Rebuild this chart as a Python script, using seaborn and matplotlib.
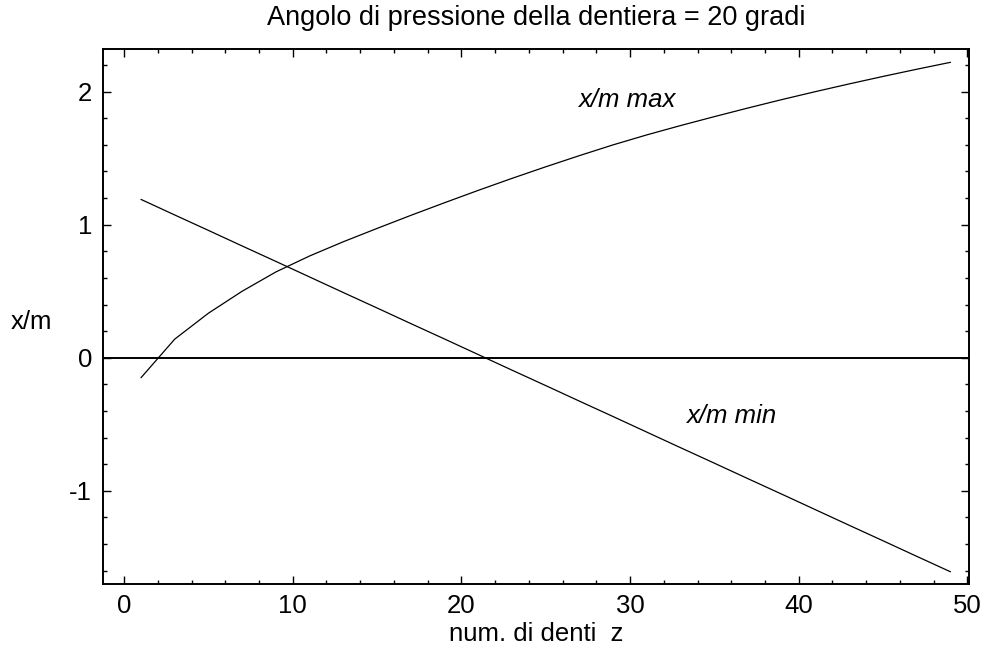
import matplotlib
matplotlib.use("Agg")
import matplotlib.pyplot as plt
from matplotlib.ticker import MultipleLocator
import seaborn as sns
import pandas as pd

# ---- data ----
z = [1, 3, 5, 7, 9, 11, 13, 15, 17, 19, 21, 23, 25,
     27, 29, 31, 33, 35, 37, 39, 41, 43, 45, 47, 49]
xm_max = [-0.15, 0.14, 0.335, 0.50, 0.645, 0.765, 0.872, 0.972, 1.07, 1.165,
          1.258, 1.348, 1.435, 1.519, 1.60, 1.675, 1.745, 1.812, 1.877, 1.94,
          2.0, 2.058, 2.114, 2.168, 2.22]
xm_min = [1.19, 1.073, 0.957, 0.84, 0.724, 0.607, 0.49, 0.374, 0.257, 0.141,
          0.024, -0.093, -0.209, -0.326, -0.442, -0.559, -0.676, -0.792,
          -0.909, -1.025, -1.142, -1.259, -1.375, -1.492, -1.608]
x_ticks = [0, 10, 20, 30, 40, 50]
y_ticks = [-1, 0, 1, 2]
title = "Angolo di pressione della dentiera = 20 gradi"
xlabel = "num. di denti  z"
ylabel = "x/m"
label_max = "x/m max"
label_min = "x/m min"

df = pd.DataFrame({"z": z + z,
                   "xm": xm_max + xm_min,
                   "serie": [label_max] * len(z) + [label_min] * len(z)})

sns.set_theme(style="ticks")
plt.rcParams["font.family"] = ["Liberation Sans", "DejaVu Sans"]
plt.rcParams["axes.unicode_minus"] = False
plt.rcParams["text.color"] = "black"
plt.rcParams["axes.labelcolor"] = "black"
plt.rcParams["xtick.color"] = "black"
plt.rcParams["ytick.color"] = "black"

FS = 18.5

fig = plt.figure(figsize=(9.86, 6.5), dpi=100)
ax = fig.add_axes([0.1045, 0.1015, 0.8783, 0.8231])

sns.lineplot(data=df, x="z", y="xm", units="serie", estimator=None,
             color="black", linewidth=0.9, ax=ax, legend=False)
ax.axhline(0, color="black", linewidth=1.4)

ax.set_xlim(-1.25, 50.1)
ax.set_ylim(-1.70, 2.32)
ax.set_xticks(x_ticks)
ax.set_yticks(y_ticks)
ax.xaxis.set_minor_locator(MultipleLocator(2))
ax.yaxis.set_minor_locator(MultipleLocator(0.2))

for s in ax.spines.values():
    s.set_visible(True)
    s.set_linewidth(1.4)
    s.set_color("black")

ax.tick_params(which="both", direction="in", top=True, right=True,
               color="black", labelcolor="black", width=1.0)
ax.tick_params(which="major", length=5.5)
ax.tick_params(which="minor", length=3)
ax.tick_params(axis="x", which="major", labelsize=FS, pad=7)
ax.tick_params(axis="y", which="major", labelsize=FS, pad=8)

ax.set_xlabel(xlabel, fontsize=FS, labelpad=3, color="black")
ax.set_ylabel(ylabel, fontsize=FS, rotation=0, va="center", color="black")
ax.yaxis.set_label_coords(-0.083, 0.49)
ax.set_title(title, fontsize=19.5, pad=17, color="black")

ax.text(29.8, 1.94, label_max, fontsize=FS, style="italic",
        ha="center", va="center", color="black")
ax.text(36.0, -0.435, label_min, fontsize=FS, style="italic",
        ha="center", va="center", color="black")

fig.savefig("out.png", dpi=100)
